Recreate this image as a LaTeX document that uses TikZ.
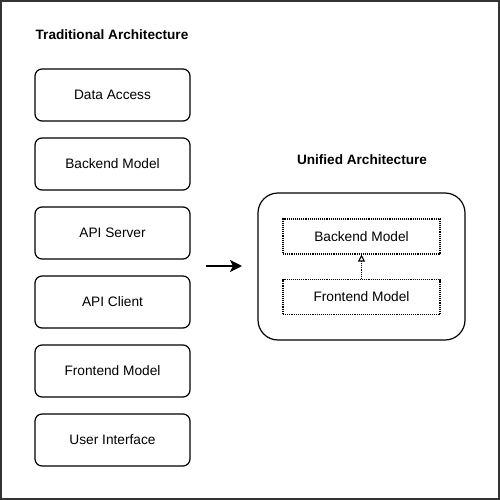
\documentclass[tikz,border=0pt]{standalone}
\usepackage{fontspec}
\setmainfont{Liberation Sans}
\usetikzlibrary{arrows.meta, positioning}

\tikzset{
  layer/.style={draw, rounded corners=7pt, line width=1.2pt, minimum width=155pt, minimum height=52pt, inner sep=0pt, font=\fontsize{13.7}{16}\selectfont},
  model/.style={draw, densely dotted, line width=1.1pt, minimum width=157pt, minimum height=35pt, inner sep=0pt, font=\fontsize{13.7}{16}\selectfont},
  heading/.style={font=\bfseries\fontsize{13.6}{16}\selectfont}
}

\begin{document}
\begin{tikzpicture}[x=1pt, y=-1pt, node distance=15.8pt]
\useasboundingbox (0,0) rectangle (500,500);
\draw[line width=1.5pt, black!80] (1,1) rectangle (499,499);

% traditional stack
\node[heading] (tradtitle) at (112,35) {Traditional Architecture};
\node[layer] (data) at (112.5,95) {Data Access};
\node[layer, below=of data] (backend) {Backend Model};
\node[layer, below=of backend] (server) {API Server};
\node[layer, below=of server] (client) {API Client};
\node[layer, below=of client] (frontend) {Frontend Model};
\node[layer, below=of frontend] (ui) {User Interface};

% unified
\node[heading] (unititle) at (362,160) {Unified Architecture};
\node[draw, line width=1.2pt, rounded corners=20pt, minimum width=207pt, minimum height=147pt] (unified) at (361.5,266.5) {};
\node[model] (unibackend) at (361.5,236.5) {Backend Model};
\node[model] (unifrontend) at (361.5,297) {Frontend Model};
\draw[densely dotted, line width=1.1pt, -{Triangle[open, length=7pt, width=7pt]}] (unifrontend) -- (unibackend);

\coordinate (shiftfrom) at (206,266);
\coordinate (shiftto) at (242,266);
\draw[line width=2pt, -{Stealth[length=12pt, width=12pt, inset=3pt]}] (shiftfrom) -- (shiftto);
\end{tikzpicture}
\end{document}
